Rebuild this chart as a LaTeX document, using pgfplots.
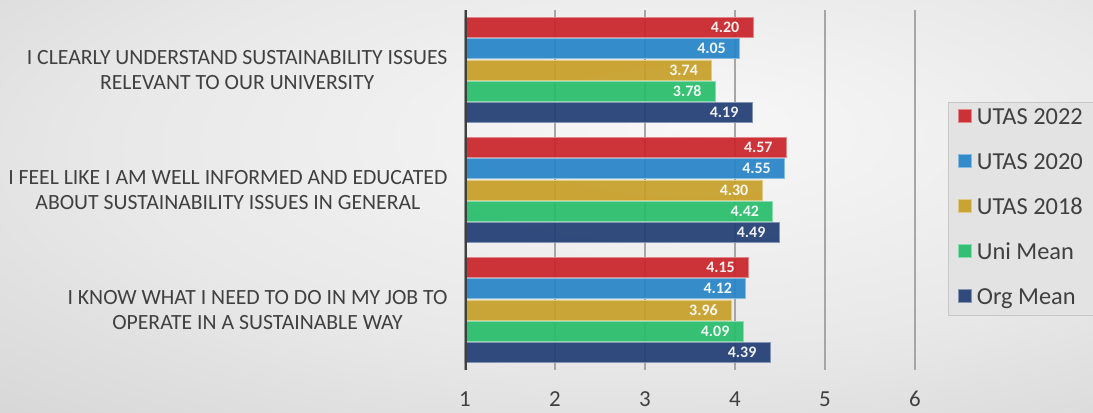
\documentclass[border=0pt]{standalone}
\usepackage{pgfplots}
\pgfplotsset{compat=1.18}
\usepackage{fontspec}
\setmainfont{Carlito}
\usetikzlibrary{backgrounds}
\definecolor{cRed}{HTML}{C9242A}
\definecolor{cBlue}{HTML}{2684C7}
\definecolor{cGold}{HTML}{C79F27}
\definecolor{cGreen}{HTML}{27BD6B}
\definecolor{cNavy}{HTML}{213D74}
\definecolor{textgray}{HTML}{404040}
\definecolor{gridgray}{HTML}{A6A6A6}
\definecolor{axisgray}{HTML}{404040}
\pgfdeclareradialshading{bgshade}{\pgfpoint{7bp}{10bp}}{color(0bp)=(white!97!black); color(25bp)=(white!91!black); color(50bp)=(white!81!black); color(80bp)=(white!76!black)}
\begin{document}
\begin{tikzpicture}
\begin{axis}[
  name=ax,
  scale only axis,
  width=450bp, height=360bp,
  xmin=1, xmax=6, ymin=-0.5, ymax=2.5,
  xbar, bar width=0.167,
  xtick={1,2,3,4,5,6},
  xticklabels={1,2,3,4,5,6},
  ytick={0,1,2},
  yticklabels={{I KNOW WHAT I NEED TO DO IN MY JOB TO\\OPERATE IN A SUSTAINABLE WAY},
               {I FEEL LIKE I AM WELL INFORMED AND EDUCATED\\ABOUT SUSTAINABILITY ISSUES IN GENERAL},
               {I CLEARLY UNDERSTAND SUSTAINABILITY ISSUES\\RELEVANT TO OUR UNIVERSITY}},
  yticklabel style={align=center, font=\fontsize{21.8}{26}\selectfont, text=textgray, xshift=-14bp},
  xticklabel style={font=\fontsize{23}{24}\selectfont, text=textgray, yshift=-18bp},
  /pgf/number format/assume math mode=true,
  major tick length=0pt,
  axis line style={draw=none},
  xmajorgrids, grid style={line width=1.3bp, color=gridgray},
  nodes near coords={\pgfmathprintnumber[fixed,zerofill,precision=2]{\pgfplotspointmeta}},
  every node near coord/.append style={anchor=east, xshift=-10bp, font=\fontsize{16}{17}\selectfont\bfseries, text=white},
  legend style={at={(1.073,0.745)}, anchor=north west, draw=white!78!black, fill=white!89!black,
     font=\fontsize{24.5}{26}\selectfont, text=textgray, inner xsep=10bp, inner ysep=4bp, row sep=20bp,
     nodes={inner sep=2bp, text height=16bp, text depth=5bp}},
  legend cell align=left,
  legend image code/.code={\draw[#1] (0bp,-4bp) rectangle (13bp,9bp); \path (16bp,0bp);},
]
\addplot[fill=cRed, draw=cRed!55!white, line width=0.8bp, fill opacity=0.92, bar shift=0.356] coordinates {(4.20,2) (4.57,1) (4.15,0)};
\addplot[fill=cBlue, draw=cBlue!55!white, line width=0.8bp, fill opacity=0.92, bar shift=0.178] coordinates {(4.05,2) (4.55,1) (4.12,0)};
\addplot[fill=cGold, draw=cGold!55!white, line width=0.8bp, fill opacity=0.92, bar shift=0] coordinates {(3.74,2) (4.30,1) (3.96,0)};
\addplot[fill=cGreen, draw=cGreen!55!white, line width=0.8bp, fill opacity=0.92, bar shift=-0.178] coordinates {(3.78,2) (4.42,1) (4.09,0)};
\addplot[fill=cNavy, draw=cNavy!55!white, line width=0.8bp, fill opacity=0.92, bar shift=-0.356] coordinates {(4.19,2) (4.49,1) (4.39,0)};
\legend{UTAS 2022, UTAS 2020, UTAS 2018, Uni Mean, Org Mean}
\draw[line width=4bp, color=axisgray] (axis cs:1,-0.5) -- (axis cs:1,2.5);
\end{axis}
\begin{scope}[on background layer]
\shade[shading=bgshade] ([shift={(-465bp,-43bp)}]ax.south west) rectangle ([shift={(628bp,370bp)}]ax.south west);
\end{scope}
\pgfresetboundingbox
\useasboundingbox ([shift={(-465bp,-43bp)}]ax.south west) rectangle ([shift={(628bp,370bp)}]ax.south west);
\end{tikzpicture}
\end{document}
